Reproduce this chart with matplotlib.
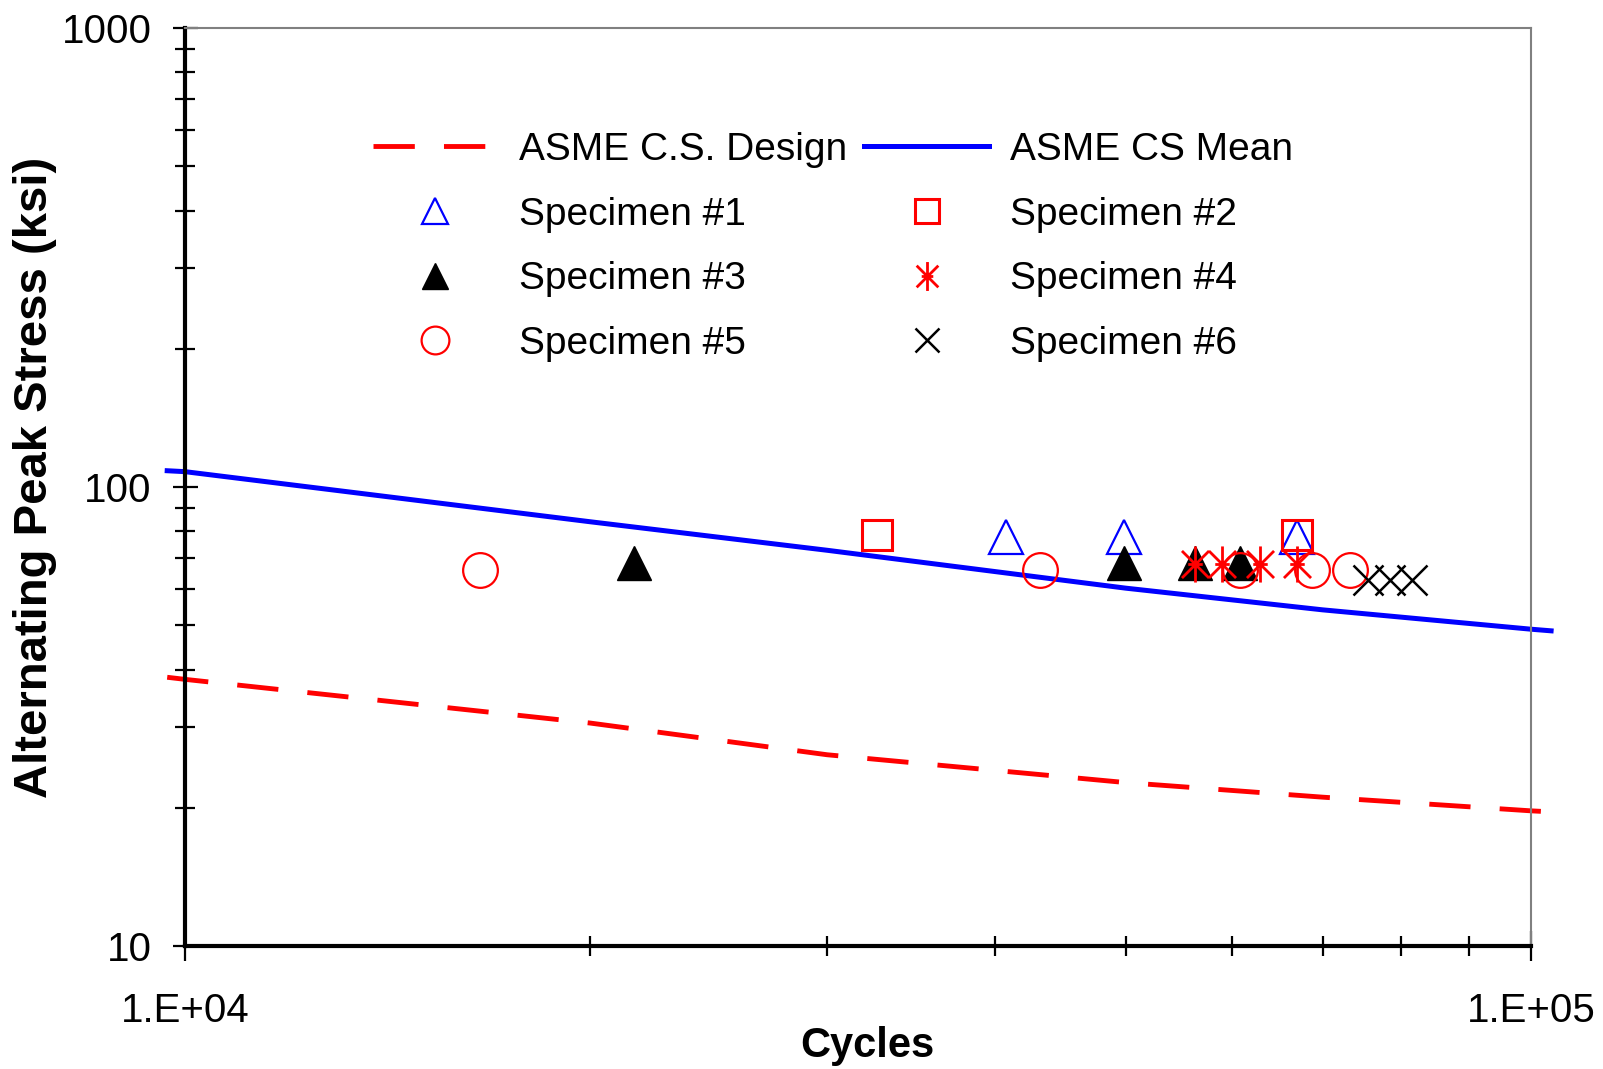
import matplotlib
matplotlib.use("Agg")
import matplotlib.pyplot as plt
from matplotlib.path import Path
from matplotlib.ticker import FixedLocator, FixedFormatter, NullFormatter

plt.rcParams['font.family'] = ['Liberation Sans', 'DejaVu Sans']

# ASME carbon steel fatigue curves (cycles vs. alternating stress, ksi)
curve_cycles = [9.7e3, 1.0e4, 2.0e4, 3.0e4, 5.0e4, 7.0e4, 1.0e5, 1.035e5]
asme_design = [38.5, 38.1, 30.6, 26.1, 22.7, 21.1, 19.7, 19.6]
asme_mean = [108.5, 108.0, 84.0, 72.8, 60.2, 54.0, 49.0, 48.6]

# Test specimens
spec1_cycles = [40740, 49840, 67020]
spec1_stress = [77.7, 77.7, 77.7]
spec2_cycles = [32680, 67020]
spec2_stress = [78.5, 78.5]
spec3_cycles = [21560, 49840, 56280, 60780]
spec3_stress = [68.2, 68.2, 68.2, 68.2]
spec4_cycles = [56280, 58940, 62900, 67020]
spec4_stress = [68.0, 68.0, 68.0, 68.0]
spec5_cycles = [16560, 43170, 60780, 68760, 73380]
spec5_stress = [65.8, 65.8, 65.8, 65.8, 65.8]
spec6_cycles = [75690, 78590, 81550]
spec6_stress = [62.6, 62.6, 62.6]

# Axis ticks
x_major = [1e4, 1e5]
x_major_labels = ['1.E+04', '1.E+05']
x_minor = [2e4, 3e4, 4e4, 5e4, 6e4, 7e4, 8e4, 9e4]
y_major = [10, 100, 1000]
y_major_labels = ['10', '100', '1000']
y_minor = [20, 30, 40, 50, 60, 70, 80, 90, 200, 300, 400, 500, 600, 700, 800, 900]

# Asterisk marker: vertical stroke, two diagonals and a short middle bar
star_verts = [(0, -1), (0, 1),
              (-0.75, -0.75), (0.75, 0.75),
              (-0.75, 0.75), (0.75, -0.75),
              (-0.4, 0), (0.4, 0)]
star_codes = [Path.MOVETO, Path.LINETO] * 4
star_marker = Path(star_verts, star_codes)

fig = plt.figure(figsize=(16.03, 10.69), dpi=100)
ax = fig.add_axes([185 / 1603, 1 - 946 / 1069, 1346 / 1603, 918 / 1069])
ax.set_xscale('log')
ax.set_yscale('log')
ax.set_xlim(1e4, 1e5)
ax.set_ylim(10, 1000)

red = '#FF0000'
blue = '#0000FF'

design, = ax.plot(curve_cycles, asme_design, color=red, lw=3.5,
                  dashes=(8.5, 6), clip_on=False, zorder=2,
                  label='ASME C.S. Design')
mean, = ax.plot(curve_cycles, asme_mean, color=blue, lw=3.6,
                clip_on=False, zorder=2, label='ASME CS Mean')

s1, = ax.plot(spec1_cycles, spec1_stress, ls='none', marker='^', ms=24,
              mfc='none', mec=blue, mew=1.6, zorder=3, label='Specimen #1')
s2, = ax.plot(spec2_cycles, spec2_stress, ls='none', marker='s', ms=21,
              mfc='none', mec=red, mew=2.2, zorder=3, label='Specimen #2')
s3, = ax.plot(spec3_cycles, spec3_stress, ls='none', marker='^', ms=24,
              mfc='black', mec='black', mew=1.0, zorder=3, label='Specimen #3')
s4, = ax.plot(spec4_cycles, spec4_stress, ls='none', marker=star_marker, ms=26,
              mfc='none', mec=red, mew=2.0, zorder=3, label='Specimen #4')
s5, = ax.plot(spec5_cycles, spec5_stress, ls='none', marker='o', ms=25,
              mfc='none', mec=red, mew=1.6, zorder=3, label='Specimen #5')
s6, = ax.plot(spec6_cycles, spec6_stress, ls='none', marker='x', ms=21,
              mfc='none', mec='black', mew=1.8, zorder=3, label='Specimen #6')

# Spines
for side in ('top', 'right'):
    ax.spines[side].set_color('#808080')
    ax.spines[side].set_linewidth(1.5)
for side in ('left', 'bottom'):
    ax.spines[side].set_color('black')
    ax.spines[side].set_linewidth(3)

ax.xaxis.set_major_locator(FixedLocator(x_major))
ax.xaxis.set_major_formatter(FixedFormatter(x_major_labels))
ax.xaxis.set_minor_locator(FixedLocator(x_minor))
ax.xaxis.set_minor_formatter(NullFormatter())
ax.yaxis.set_major_locator(FixedLocator(y_major))
ax.yaxis.set_major_formatter(FixedFormatter(y_major_labels))
ax.yaxis.set_minor_locator(FixedLocator(y_minor))
ax.yaxis.set_minor_formatter(NullFormatter())

ax.tick_params(which='both', direction='inout', width=1.6, color='black',
               labelsize=29, top=False, right=False)
ax.tick_params(axis='y', which='major', length=18, pad=15)
ax.tick_params(axis='y', which='minor', length=14)
ax.tick_params(axis='x', which='major', length=22, pad=22)
ax.tick_params(axis='x', which='minor', length=15)

ax.set_xlabel('Cycles', fontsize=30, fontweight='bold')
ax.xaxis.set_label_coords(0.507, -0.087)
ax.set_ylabel('Alternating Peak Stress (ksi)', fontsize=34, fontweight='bold')
ax.yaxis.set_label_coords(-0.095, 0.51)

handles = [design, s1, s3, s5, mean, s2, s4, s6]
ax.legend(handles=handles, labels=[h.get_label() for h in handles],
          ncol=2, loc='upper left', bbox_to_anchor=(0.1397, 0.887),
          frameon=False, fontsize=28, handlelength=3.2, handletextpad=0.55,
          columnspacing=0.45, labelspacing=0.74, borderpad=0,
          borderaxespad=0, markerscale=0.8)

fig.savefig('out.png', dpi=100)
